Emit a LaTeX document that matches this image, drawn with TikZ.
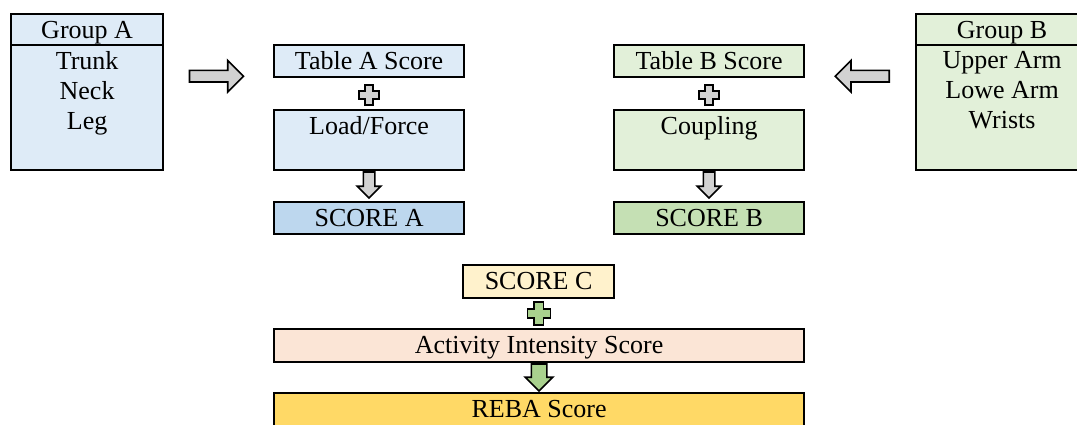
\documentclass[tikz,border=0pt]{standalone}
\usepackage{fontspec}
\setmainfont{Liberation Serif}
\usetikzlibrary{shapes.arrows,calc}

\definecolor{blueL}{HTML}{DEEBF7}
\definecolor{blueM}{HTML}{BDD7EE}
\definecolor{greenL}{HTML}{E2F0D9}
\definecolor{greenM}{HTML}{C5E0B4}
\definecolor{yellowL}{HTML}{FFF2CC}
\definecolor{peach}{HTML}{FBE5D6}
\definecolor{gold}{HTML}{FFD966}
\definecolor{arrowgray}{HTML}{D2D2D2}
\definecolor{arrowgreen}{HTML}{A9D18E}

\tikzset{
  txt/.style={font=\fontsize{26}{30}\selectfont, text=black},
  box/.style={draw=black, line width=2.2pt, rectangle, inner sep=0pt, txt,
              text height=24.5pt, anchor=north west},
  blockarrow/.style={single arrow, draw=black, line width=1.6pt,
              single arrow tip angle=90, single arrow head indent=0pt},
  plussign/.pic={
    \draw[pic actions] (-4,-10) -- ++(8,0) -- ++(0,6) -- ++(6,0) -- ++(0,8)
      -- ++(-6,0) -- ++(0,6) -- ++(-8,0) -- ++(0,-6) -- ++(-6,0) -- ++(0,-8)
      -- ++(6,0) -- cycle;
  }
}

\begin{document}
\begin{tikzpicture}[x=1pt,y=-1pt]
\useasboundingbox (0,0) rectangle (1077,424);
\clip (0,0) rectangle (1077,424);

% Group A
\node[box, fill=blueL, minimum width=152pt, text depth=6.5pt] (gAh) at (10,13) {Group A};
\node[box, fill=blueL, minimum width=152pt, minimum height=125pt] (gAb) at (10,44) {};
\node[txt, align=center, anchor=north, inner sep=0pt] (gAt) at ($(gAb.north)+(0,7.2)$) {Trunk\\Neck\\Leg};

% Group B
\node[box, fill=greenL, minimum width=172pt, text depth=6.5pt] (gBh) at (915,13) {Group B};
\node[box, fill=greenL, minimum width=172pt, minimum height=125pt] (gBb) at (915,44) {};
\node[txt, align=center, anchor=north, inner sep=0pt] (gBt) at ($(gBb.north)+(0,7.2)$) {Upper Arm\\Lowe Arm\\Wrists};

% Column A
\node[box, fill=blueL, minimum width=190pt, text depth=7.5pt] (tA) at (273,44) {Table A Score};
\node[box, fill=blueL, minimum width=190pt, text depth=35.5pt] (lA) at (273,109) {Load/Force};
\node[box, fill=blueM, minimum width=190pt, text depth=7.5pt] (sA) at (273,201) {SCORE A};

% Column B
\node[box, fill=greenL, minimum width=190pt, text depth=7.5pt] (tB) at (613,44) {Table B Score};
\node[box, fill=greenL, minimum width=190pt, text depth=35.5pt] (cB) at (613,109) {Coupling};
\node[box, fill=greenM, minimum width=190pt, text depth=7.5pt] (sB) at (613,201) {SCORE B};

% Final column
\node[box, fill=yellowL, minimum width=151pt, text depth=8.5pt] (sC) at (462,264) {SCORE C};
\node[box, fill=peach, minimum width=530pt, text depth=8.5pt] (act) at (273,328) {Activity Intensity Score};
\node[box, fill=gold, minimum width=530pt, text depth=15.5pt] (reba) at (273,392) {REBA Score};

% Side arrows into the tables
\node[blockarrow, fill=arrowgray, inner sep=5pt, minimum height=54pt,
      single arrow head extend=10pt]
  (arA) at ($($(gAb.east|-tA.south)!0.5!(tA.south west)$)+(-5,-2)$) {};
\node[blockarrow, fill=arrowgray, inner sep=5pt, minimum height=54pt,
      single arrow head extend=10pt, shape border rotate=180]
  (arB) at ($($(tB.south east)!0.5!(gBb.west|-tB.south)$)+(5,-2)$) {};

% Plus signs
\coordinate (pA) at ($(tA.south)!0.55!(lA.north)$);
\coordinate (pB) at ($(tB.south)!0.55!(cB.north)$);
\coordinate (pC) at ($(sC.south)!0.5!(act.north)$);
\pic[fill=arrowgray, draw=black, line width=1.6pt] at (pA) {plussign};
\pic[fill=arrowgray, draw=black, line width=1.6pt] at (pB) {plussign};
\pic[fill=arrowgreen, draw=black, line width=1.6pt, scale=1.15] at (pC) {plussign};

% Down arrows
\node[blockarrow, fill=arrowgray, inner sep=5pt, minimum height=26pt,
      single arrow head extend=6pt, shape border rotate=270]
  (dA) at ($(lA.south)!0.5!(sA.north)+(0,-4)$) {};
\node[blockarrow, fill=arrowgray, inner sep=5pt, minimum height=26pt,
      single arrow head extend=6pt, shape border rotate=270]
  (dB) at ($(cB.south)!0.5!(sB.north)+(0,-4)$) {};
\node[blockarrow, fill=arrowgreen, inner sep=7pt, minimum height=27pt,
      single arrow head extend=6pt, shape border rotate=270]
  (dC) at ($(act.south)!0.5!(reba.north)+(0,-4)$) {};
\end{tikzpicture}
\end{document}
